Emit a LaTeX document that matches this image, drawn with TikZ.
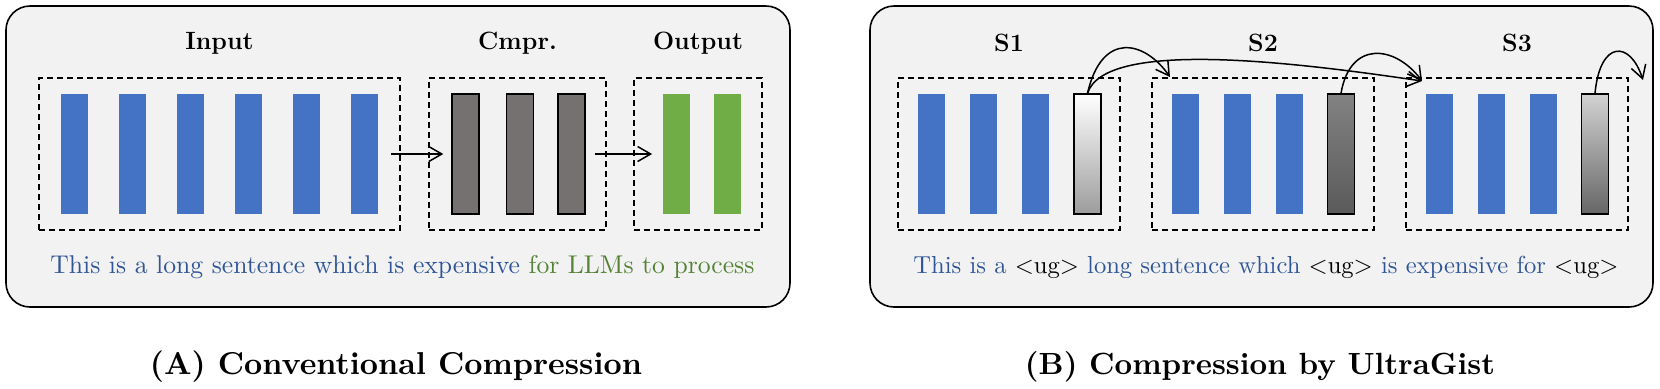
\documentclass[tikz,border=0pt]{standalone}
\usetikzlibrary{arrows.meta}
\definecolor{panelfill}{HTML}{F2F2F2}
\definecolor{barblue}{HTML}{4472C4}
\definecolor{bargreen}{HTML}{70AD47}
\definecolor{bargray}{HTML}{767171}
\definecolor{textblue}{HTML}{2F5597}
\definecolor{textgreen}{HTML}{548235}
\definecolor{gAtop}{HTML}{FFFFFF}
\definecolor{gAbot}{HTML}{9C9C9C}
\definecolor{gBtop}{HTML}{828282}
\definecolor{gBbot}{HTML}{5A5A5A}
\definecolor{gCtop}{HTML}{D2D2D2}
\definecolor{gCbot}{HTML}{666666}
\begin{document}
\begin{tikzpicture}[x=0.5pt,y=-0.5pt,
  panel/.style={draw=black,line width=0.8pt,fill=panelfill,rounded corners=12pt,inner sep=0pt},
  dbox/.style={draw=black,dash pattern=on 3pt off 2pt,line width=0.7pt,inner sep=0pt,minimum height=76pt},
  bar/.style={inner sep=0pt,minimum width=13.5pt,minimum height=60pt},
  bluebar/.style={bar,fill=barblue},
  greenbar/.style={bar,fill=bargreen},
  graybar/.style={bar,fill=bargray,draw=black,line width=0.7pt},
  gradA/.style={bar,draw=black,line width=0.7pt,top color=gAtop,bottom color=gAbot},
  gradB/.style={bar,draw=black,line width=0.7pt,top color=gBtop,bottom color=gBbot},
  gradC/.style={bar,draw=black,line width=0.7pt,top color=gCtop,bottom color=gCbot},
  arr/.style={-{Straight Barb[length=6.5pt,width=7.5pt]},line width=0.75pt},
  title/.style={font=\fontsize{12.5}{15}\selectfont\bfseries,inner sep=0pt},
]
\useasboundingbox (0,0) rectangle (1660,388);
\fill[white] (0,0) rectangle (1660,388);

% ---------- Panel A ----------
\node[panel,minimum width=392pt,minimum height=150.5pt] (pA) at (398,156.5) {};
\node[dbox,minimum width=180.5pt] (inbox) at (219.5,154) {};
\node[dbox,minimum width=88.5pt] (cbox) at (517.5,154) {};
\node[dbox,minimum width=64pt] (obox) at (698,154) {};
\foreach \x [count=\i] in {74.5,132.5,190.5,248.5,306.5,364.5}
  \node[bluebar] (in\i) at (\x,154) {};
\foreach \x [count=\i] in {465.5,520,571.5}
  \node[graybar] (c\i) at (\x,154) {};
\foreach \x [count=\i] in {676,727.5}
  \node[greenbar] (o\i) at (\x,154) {};
\draw[arr,shorten <=6.5pt,shorten >=4pt] (in6.east) -- (c1.west);
\draw[arr,shorten <=4.5pt,shorten >=5pt] (c3.east) -- (o1.west);
\node[title] (tin) at (219.5,43) {Input};
\node[title] (tc) at (517.5,43) {Cmpr.};
\node[title] (to) at (698,43) {Output};
\node[anchor=base west,inner sep=0pt] (sentA) at (50,273)
  {\resizebox{352pt}{!}{\textcolor{textblue}{This is a long sentence which is expensive} \textcolor{textgreen}{for LLMs to process}}};
\node[anchor=base,inner sep=0pt] (capA) at (396,374)
  {\resizebox{246pt}{!}{\bfseries (A) Conventional Compression}};

% ---------- Panel B ----------
\node[panel,minimum width=391.5pt,minimum height=150.5pt] (pB) at (1261.5,156.5) {};
\node[dbox,minimum width=111pt] (s1box) at (1009,154) {};
\node[dbox,minimum width=111pt] (s2box) at (1263,154) {};
\node[dbox,minimum width=111pt] (s3box) at (1517,154) {};
\foreach \x [count=\i] in {931.5,983.5,1035.5}
  \node[bluebar] (sa\i) at (\x,154) {};
\node[gradA] (s1g) at (1087.5,154) {};
\foreach \x [count=\i] in {1185.5,1237.5,1289.5}
  \node[bluebar] (sb\i) at (\x,154) {};
\node[gradB] (s2g) at (1341,154) {};
\foreach \x [count=\i] in {1439.5,1491.5,1543.5}
  \node[bluebar] (sc\i) at (\x,154) {};
\node[gradC] (s3g) at (1595,154) {};
\node[title] (ts1) at (1009,43) {S1};
\node[title] (ts2) at (1263,43) {S2};
\node[title] (ts3) at (1517,43) {S3};
\coordinate (t1) at (1170,77);
\coordinate (t2) at (1422,81);
\coordinate (t3) at (1643,80);
\draw[arr] (s1g.north) .. controls (1102,30) and (1145,41) .. (t1);
\draw[arr] (s1g.north) .. controls (1105,38) and (1300,63) .. (t2);
\draw[arr] (s2g.north) .. controls (1350,40) and (1395,45) .. (t2);
\draw[arr] (s3g.north) .. controls (1600,40) and (1630,40) .. (t3);
\node[anchor=base west,inner sep=0pt] (sentB) at (913,273)
  {\resizebox{352.5pt}{!}{\textcolor{textblue}{This is a} \textless ug\textgreater{} \textcolor{textblue}{long sentence which} \textless ug\textgreater{} \textcolor{textblue}{is expensive for} \textless ug\textgreater}};
\node[anchor=base,inner sep=0pt] (capB) at (1260,374)
  {\resizebox{235pt}{!}{\bfseries (B) Compression by UltraGist}};
\end{tikzpicture}
\end{document}
